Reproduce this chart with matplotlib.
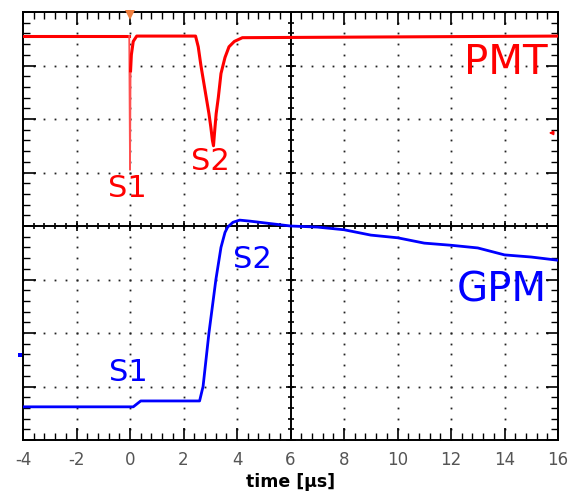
import numpy as np
import matplotlib
matplotlib.use('Agg')
from matplotlib import pyplot as plt

plt.rcParams['axes.unicode_minus'] = False

# PMT trace (red), time in us, amplitude in screen divisions (0..8)
pmt_t = [-4.0, -0.03, 0.0, 0.02, 0.05, 0.12, 0.25, 2.45, 2.55, 2.65, 2.75, 2.85,
         2.95, 3.02, 3.08, 3.12, 3.16, 3.22, 3.3, 3.4, 3.55, 3.7, 3.9, 4.2, 16.0]
pmt_v = [7.55, 7.55, 5.05, 6.9, 7.2, 7.45, 7.55, 7.55, 7.35, 7.0, 6.7, 6.4,
         6.1, 5.85, 5.6, 5.5, 5.75, 6.1, 6.4, 6.85, 7.15, 7.35, 7.45, 7.52, 7.55]

# GPM trace (blue)
gpm_t = [-4.0, 0.12, 0.4, 2.6, 2.73, 2.95, 3.21, 3.4, 3.55, 3.65, 3.85, 4.1,
         4.5, 5.0, 6.0, 7.0, 8.0, 9.0, 10.0, 11.0, 12.0, 13.0, 14.0, 15.0, 16.0]
gpm_v = [0.62, 0.62, 0.73, 0.73, 1.0, 2.0, 3.0, 3.6, 3.88, 3.98, 4.07, 4.11,
         4.09, 4.06, 4.0, 3.98, 3.93, 3.83, 3.78, 3.68, 3.64, 3.59, 3.46, 3.42, 3.36]

x_ticks = [-4, -2, 0, 2, 4, 6, 8, 10, 12, 14, 16]

red = '#ff0000'
blue = '#0000ff'

fig = plt.figure(figsize=(5.7, 4.94), dpi=100)
ax = fig.add_axes([0.0404, 0.1093, 0.9386, 0.8664])
ax.set_xlim(-4, 16)
ax.set_ylim(0, 8)

# dotted graticule
minor_x = np.arange(-4, 16.01, 0.4)
minor_y = np.arange(0, 8.01, 0.2)
for gx in [-2, 0, 2, 4, 8, 10, 12, 14]:
    ax.plot(np.full(len(minor_y), gx), minor_y, 's', ms=1.3, color='#222222', mew=0, zorder=1)
for gy in [1, 2, 3, 5, 6, 7]:
    ax.plot(minor_x, np.full(len(minor_x), gy), 's', ms=1.3, color='#222222', mew=0, zorder=1)

# center crosshair with ticks
ax.axvline(6, color='black', lw=1.4, zorder=2)
ax.axhline(4, color='black', lw=1.4, zorder=2)
ax.plot(minor_x, np.full(len(minor_x), 4), '|', ms=5, mew=1.2, color='black', zorder=2)
ax.plot(x_ticks, np.full(len(x_ticks), 4), '|', ms=7.5, mew=1.2, color='black', zorder=2)
ax.plot(np.full(len(minor_y), 6), minor_y, '_', ms=5, mew=1.2, color='black', zorder=2)
ax.plot(np.full(9, 6), np.arange(0, 9), '_', ms=7.5, mew=1.2, color='black', zorder=2)

# traces (S1 spike of the PMT is drawn thinner, as on the scope)
ax.plot(pmt_t[:2], pmt_v[:2], color=red, lw=2.2, zorder=3)
ax.plot(pmt_t[1:4], pmt_v[1:4], color='#ff5050', lw=1.3, zorder=3)
ax.plot(pmt_t[3:], pmt_v[3:], color=red, lw=2.2, zorder=3)
ax.plot(gpm_t, gpm_v, color=blue, lw=2.0, zorder=3)

# labels
ax.text(15.6, 7.05, 'PMT', color=red, fontsize=29, ha='right', va='center')
ax.text(15.6, 2.79, 'GPM', color=blue, fontsize=29, ha='right', va='center')
ax.text(-0.09, 4.71, 'S1', color=red, fontsize=22, ha='center', va='center')
ax.text(3.01, 5.21, 'S2', color=red, fontsize=22, ha='center', va='center')
ax.text(-0.06, 1.26, 'S1', color=blue, fontsize=22, ha='center', va='center')
ax.text(4.56, 3.38, 'S2', color=blue, fontsize=22, ha='center', va='center')

# scope markers
ax.plot(0, 7.94, 'v', ms=7, color='#f08040', mew=0, clip_on=False, zorder=4)
ax.annotate('', xy=(15.55, 5.74), xytext=(15.95, 5.74),
            arrowprops=dict(arrowstyle='-|>', color=red, lw=1, mutation_scale=6))
ax.plot(-4.12, 1.59, 's', ms=2.5, color=blue, mew=0, clip_on=False)

# axes styling
ax.set_xticks(x_ticks)
ax.set_xticks(minor_x, minor=True)
ax.set_yticks(np.arange(0, 9))
ax.set_yticks(minor_y, minor=True)
ax.tick_params(which='major', direction='in', length=9, width=1.2, top=True, right=True,
               labelleft=False, labelsize=12, labelcolor='#555555', pad=8)
ax.tick_params(which='minor', direction='in', length=5, width=1.0, top=True, right=True)
for s in ax.spines.values():
    s.set_linewidth(1.4)
ax.set_xlabel('time [μs]', fontsize=12.5, fontweight='bold', labelpad=3)

fig.savefig('out.png', dpi=100)
